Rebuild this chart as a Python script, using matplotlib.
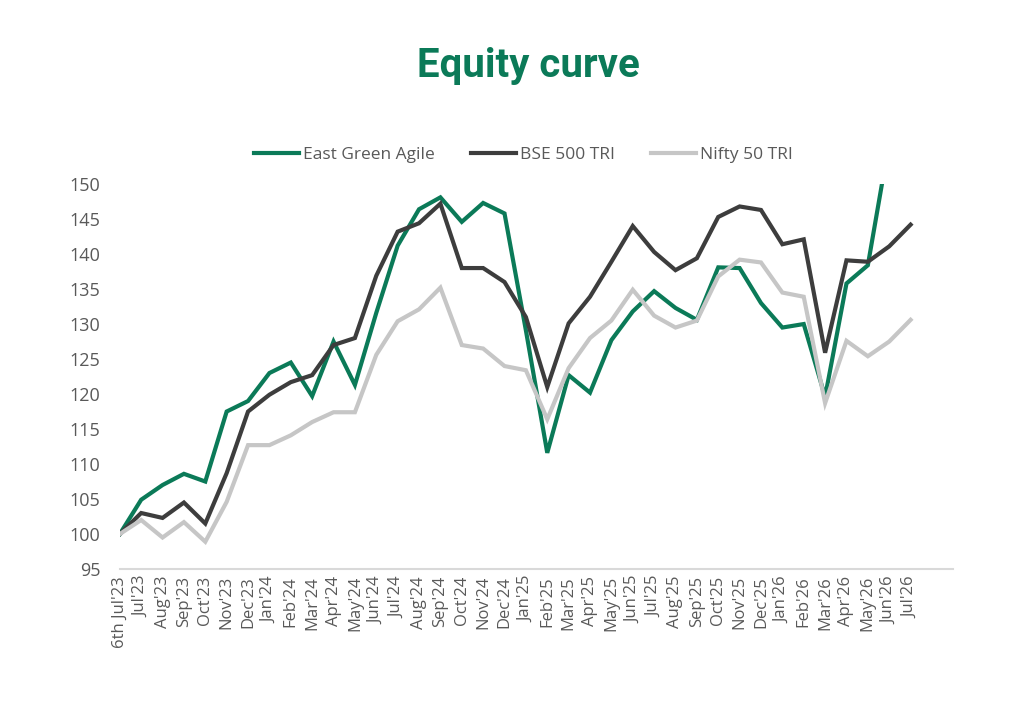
import numpy as np
import matplotlib
matplotlib.use('Agg')
import matplotlib.pyplot as plt

# categories (two blank slots at the end, as in the source chart)
labels = ["6th Jul'23", "Jul'23", "Aug'23", "Sep'23", "Oct'23", "Nov'23", "Dec'23",
          "Jan'24", "Feb'24", "Mar'24", "Apr'24", "May'24", "Jun'24", "Jul'24",
          "Aug'24", "Sep'24", "Oct'24", "Nov'24", "Dec'24", "Jan'25", "Feb'25",
          "Mar'25", "Apr'25", "May'25", "Jun'25", "Jul'25", "Aug'25", "Sep'25",
          "Oct'25", "Nov'25", "Dec'25", "Jan'26", "Feb'26", "Mar'26", "Apr'26",
          "May'26", "Jun'26", "Jul'26", "", ""]

east_green = [100.0, 104.9, 107.0, 108.6, 107.5, 117.5, 119.0, 123.0, 124.5, 119.7,
              127.5, 121.3, 131.6, 141.2, 146.4, 148.1, 144.6, 147.3, 145.8, 129.1,
              111.6, 122.7, 120.2, 127.7, 131.8, 134.7, 132.3, 130.6, 138.1, 138.0,
              133.0, 129.5, 130.0, 119.6, 135.8, 138.4, 156.0, 158.0]

bse500 = [100.0, 103.0, 102.3, 104.5, 101.5, 108.7, 117.5, 119.9, 121.7, 122.7,
          127.0, 128.0, 136.9, 143.2, 144.4, 147.2, 138.0, 138.0, 136.0, 131.0,
          121.0, 130.1, 133.9, 138.9, 144.0, 140.3, 137.7, 139.4, 145.3, 146.8,
          146.3, 141.4, 142.1, 125.9, 139.1, 138.9, 141.1, 144.2]

nifty50 = [100.0, 102.0, 99.5, 101.7, 98.9, 104.6, 112.7, 112.7, 114.1, 116.0,
           117.4, 117.4, 125.6, 130.4, 132.1, 135.2, 127.0, 126.5, 124.0, 123.4,
           116.4, 123.7, 128.0, 130.5, 134.9, 131.2, 129.5, 130.5, 136.8, 139.2,
           138.8, 134.5, 133.9, 118.7, 127.6, 125.4, 127.5, 130.6]

yticks = list(range(95, 151, 5))

GREEN = '#0b7a58'
DARK = '#3d3d3d'
LIGHT = '#c6c6c6'
TXT = '#595959'

plt.rcParams['font.family'] = ['Open Sans', 'DejaVu Sans']

fig = plt.figure(figsize=(10.24, 7.19), dpi=100)
ax = fig.add_axes([0.117, 0.2086, 0.814, 0.5354])

x = np.arange(len(east_green))
ax.plot(x, east_green, color=GREEN, lw=3, label='East Green Agile', solid_joinstyle='miter')
ax.plot(x, bse500, color=DARK, lw=3, label='BSE 500 TRI', solid_joinstyle='miter')
ax.plot(x, nifty50, color=LIGHT, lw=3, label='Nifty 50 TRI', solid_joinstyle='miter')

ax.set_xlim(0, len(labels) - 1)
ax.set_ylim(95, 150)
ax.set_yticks(yticks)
ax.set_xticks(np.arange(len(labels)))
ax.set_xticklabels(labels, rotation=90, fontsize=12, color=TXT)
ax.tick_params(axis='y', length=0, pad=14, labelsize=13, labelcolor=TXT)
ax.tick_params(axis='x', length=0, pad=5)

for s in ['top', 'right', 'left']:
    ax.spines[s].set_visible(False)
ax.spines['bottom'].set_color('#d9d9d9')
ax.spines['bottom'].set_linewidth(1.5)

fig.text(0.516, 0.908, 'Equity curve', ha='center', va='center',
         fontsize=29, fontweight='bold', color=GREEN, family='Roboto')

fig.legend(loc='center', bbox_to_anchor=(0.511, 0.784), ncol=3, frameon=False,
           fontsize=12.5, handlelength=2.6, handletextpad=0.2, columnspacing=2.1,
           labelcolor=TXT)

fig.savefig('out.png', dpi=100)
